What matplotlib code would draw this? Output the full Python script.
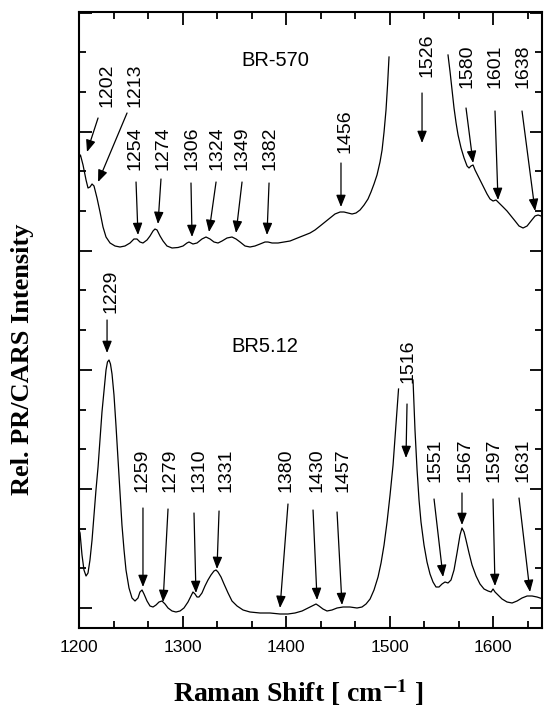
import numpy as np
import matplotlib.pyplot as plt
from matplotlib.ticker import FixedLocator, MultipleLocator
'''
PR/CARS spectra of BR-570 and BR5.12, 1200-1650 cm-1.
Intensities are relative (arbitrary units, no y tick labels).
'''
plt.rcParams['font.family'] = ['Liberation Sans', 'DejaVu Sans']
plt.rcParams['mathtext.fontset'] = 'stix'

####DATA######
# BR-570 (upper trace), nan = part of the 1526 band not drawn
upper_x = [1200.0, 1201.4, 1203.9, 1206.8, 1208.7, 1210.6, 1212.6, 1214.5, 1217.4, 1220.3,
           1223.2, 1226.1, 1230.0, 1234.8, 1239.6, 1244.4, 1249.3, 1253.1, 1256.0, 1258.9,
           1261.8, 1265.7, 1268.6, 1271.5, 1273.4, 1275.4, 1278.3, 1281.2, 1285.0, 1289.9,
           1295.7, 1300.5, 1304.3, 1306.3, 1310.1, 1314.0, 1318.8, 1322.7, 1326.6, 1330.4,
           1334.3, 1338.2, 1343.0, 1347.8, 1351.7, 1355.6, 1360.4, 1365.2, 1370.0, 1374.9,
           1379.7, 1382.6, 1386.5, 1392.3, 1398.1, 1403.9, 1408.7, 1413.5, 1418.4, 1423.2,
           1428.0, 1432.9, 1437.7, 1442.5, 1447.3, 1452.2, 1456.0, 1459.9, 1463.8, 1467.6,
           1471.5, 1475.4, 1479.2, 1482.1, 1485.0, 1487.9, 1490.8, 1492.8, 1494.7, 1496.6,
           1498.1, 1499.5, np.nan,
           1556.5, 1558.5, 1560.4, 1562.3, 1564.3, 1566.2, 1569.1, 1572.0, 1574.9, 1576.8,
           1578.7, 1580.7, 1582.6, 1585.5, 1588.4, 1591.3, 1594.2, 1597.1, 1600.0, 1602.9,
           1605.8, 1609.7, 1613.5, 1617.4, 1621.3, 1625.1, 1629.0, 1632.9, 1636.7, 1640.6,
           1643.5, 1646.4, 1648.3]
upper_y = [470, 473, 463, 448, 440, 441, 444, 442, 430, 416,
           401, 391, 385, 382, 381, 382, 385, 389, 389, 386,
           385, 388, 392, 397, 399, 398, 392, 387, 382, 380,
           380.5, 382, 385, 386, 384, 385, 389, 391, 389, 386,
           385, 387, 390, 391, 389, 386, 382, 381, 382, 384,
           386, 386, 385, 385, 386, 387, 389, 391, 393, 395,
           398, 402, 406, 410, 414, 416, 416, 415, 414, 415,
           418, 423, 429, 436, 444, 453, 466, 478, 496, 518,
           543, 571, np.nan,
           573, 556, 538, 520, 505, 493, 480, 470, 462, 460,
           462, 463, 458, 452, 446, 440, 434, 429, 427, 428,
           425, 421, 417, 412, 407, 402, 400, 402, 407, 412,
           413, 412, 410]

# BR5.12 (lower trace), nan = top of the 1516 band not drawn
lower_x = [1200.0, 1201.0, 1202.9, 1204.8, 1206.8, 1208.7, 1210.6, 1212.6, 1214.5, 1216.4,
           1218.4, 1220.3, 1222.2, 1224.2, 1226.1, 1227.5, 1229.0, 1230.4, 1231.9, 1233.8,
           1235.7, 1237.7, 1239.6, 1241.5, 1243.5, 1245.4, 1248.3, 1251.2, 1254.1, 1257.0,
           1258.9, 1260.9, 1262.8, 1265.7, 1268.6, 1271.5, 1274.4, 1277.3, 1280.2, 1283.1,
           1286.0, 1289.9, 1293.7, 1297.6, 1301.4, 1305.3, 1308.2, 1310.1, 1312.1, 1314.0,
           1315.9, 1318.8, 1321.7, 1324.6, 1327.5, 1330.4, 1332.4, 1334.3, 1337.2, 1340.1,
           1344.0, 1347.8, 1352.7, 1358.5, 1365.2, 1374.9, 1384.5, 1394.2, 1401.9, 1408.7,
           1415.5, 1421.3, 1425.1, 1429.0, 1431.9, 1435.7, 1439.6, 1444.4, 1449.3, 1455.1,
           1461.8, 1468.6, 1473.4, 1477.3, 1481.2, 1485.0, 1488.9, 1491.8, 1494.7, 1497.6,
           1500.5, 1503.4, 1505.3, 1507.2, 1508.7, np.nan,
           1522.7, 1523.7, 1524.6, 1526.6, 1528.5, 1530.4, 1533.3, 1536.2, 1539.1, 1542.0,
           1544.9, 1547.8, 1550.7, 1553.6, 1556.5, 1559.4, 1562.3, 1565.2, 1568.1, 1570.0,
           1572.0, 1573.9, 1576.8, 1579.7, 1583.6, 1587.4, 1591.3, 1595.2, 1598.1, 1600.0,
           1601.9, 1604.8, 1608.7, 1613.5, 1618.4, 1623.2, 1628.0, 1632.9, 1637.7, 1642.5,
           1648.3]
lower_y = [98, 95, 73, 58, 52, 55, 68, 88, 113, 138,
           161, 188, 216, 238, 258, 266, 268, 264, 254, 233,
           203, 168, 133, 103, 78, 58, 40, 30, 27, 30,
           36, 38, 34, 27, 22, 21, 23, 26, 27, 24,
           20, 17, 16, 17, 20, 26, 32, 36, 34, 31,
           31, 35, 42, 48, 53, 57, 58, 56, 51, 44,
           35, 27, 22, 18, 16, 15, 15, 14, 14, 15,
           17, 20, 22, 24, 22, 19, 17, 18, 20, 21,
           21, 20, 21, 24, 29, 38, 51, 65, 83, 106,
           133, 163, 190, 218, 239, np.nan,
           248, 223, 198, 158, 128, 106, 83, 66, 54, 46,
           41, 41, 44, 46, 45, 48, 58, 75, 93, 100,
           96, 88, 75, 63, 52, 44, 39, 37, 36, 39,
           36, 33, 29, 26, 25, 27, 30, 32, 32, 31,
           29]

# peak labels
upper_peaks = [1202, 1213, 1254, 1274, 1306, 1324, 1349, 1382, 1456, 1526, 1580, 1601, 1638]
lower_peaks = [1229, 1259, 1279, 1310, 1331, 1380, 1430, 1457, 1516, 1551, 1567, 1597, 1631]

#--------------------
# label / arrow placement (x in cm-1, y in plot units)
upper_text = [(1227.1, 521), (1254.1, 521), (1254.1, 458), (1281.6, 458), (1308.9, 458),
              (1333.0, 458), (1357.2, 458), (1384.5, 458), (1457.0, 475), (1536.2, 551),
              (1574.9, 540), (1601.9, 540), (1629.0, 540)]
upper_tail = [(1218.4, 510), (1246.4, 515), (1255.1, 446), (1279.2, 449), (1308.2, 445),
              (1332.4, 446), (1357.5, 446), (1383.6, 445), (1453.1, 465), (1531.4, 535),
              (1573.9, 520), (1601.9, 517), (1628.0, 517)]
upper_tip = [(1207.7, 476), (1218.4, 446), (1257.0, 393), (1276.3, 404), (1309.2, 391),
             (1325.6, 396), (1351.7, 395), (1381.6, 393), (1453.1, 421), (1531.4, 485),
             (1580.7, 465), (1604.8, 428), (1640.6, 417)]
lower_text = [(1230.9, 315), (1260.9, 136), (1287.9, 136), (1315.9, 136), (1342.0, 136),
              (1400.0, 136), (1430.0, 136), (1455.1, 136), (1517.4, 245), (1544.4, 146),
              (1572.5, 146), (1601.4, 146), (1628.5, 146)]
lower_tail = [(1227.1, 308), (1261.8, 120), (1286.0, 119), (1311.1, 115), (1335.3, 117),
              (1401.9, 124), (1426.1, 118), (1449.3, 116), (1516.9, 224), (1543.0, 129),
              (1570.0, 135), (1600.0, 129), (1625.1, 130)]
lower_tip = [(1227.1, 275), (1261.8, 41), (1281.2, 26), (1313.0, 35), (1333.3, 59),
             (1394.2, 20), (1430.0, 28), (1454.1, 23), (1515.9, 170), (1551.7, 51),
             (1570.0, 103), (1601.9, 42), (1635.7, 36)]

#Plotting-----------
fig = plt.figure(figsize=(5.45, 7.07), dpi=100)
ax = fig.add_axes([79/545, 79/707, 463/545, 616/707])

ax.plot(upper_x, upper_y, color='black', lw=0.9)
ax.plot(lower_x, lower_y, color='black', lw=0.9)

arrow = dict(arrowstyle='-|>,head_length=0.4,head_width=0.16', mutation_scale=18,
             color='black', lw=0.9, shrinkA=0, shrinkB=0)
for peaks, text, tail, tip in [(upper_peaks, upper_text, upper_tail, upper_tip),
                               (lower_peaks, lower_text, lower_tail, lower_tip)]:
    for p, t, a, b in zip(peaks, text, tail, tip):
        ax.annotate('', xy=b, xytext=a, arrowprops=arrow)
        ax.text(t[0], t[1], str(p), rotation=90, ha='center', va='bottom', fontsize=14)

ax.text(1389.4, 568, 'BR-570', ha='center', va='center', fontsize=14.5)
ax.text(1379.7, 281.5, 'BR5.12', ha='center', va='center', fontsize=14.5)

ax.set_xlim(1200, 1647.3)
ax.set_ylim(0, 616)
ax.xaxis.set_major_locator(FixedLocator([1200, 1300, 1400, 1500, 1600]))
ax.xaxis.set_minor_locator(MultipleLocator(100/3))
ax.yaxis.set_major_locator(FixedLocator(20 + 119.1*np.arange(6)))
ax.yaxis.set_minor_locator(FixedLocator(20 + 39.7*np.arange(16)))
ax.tick_params(which='both', direction='in', top=True, right=True, width=1.3)
ax.tick_params(which='major', length=9)
ax.tick_params(which='minor', length=5)
ax.tick_params(axis='x', labelsize=12.5, pad=9)
ax.tick_params(axis='y', labelleft=False)
for s in ax.spines.values():
    s.set_linewidth(1.5)

fig.text(298/545, 5/707, r'Raman Shift [ cm$^{\mathbf{-1}}$ ]', family='Liberation Serif',
         weight='bold', fontsize=20, ha='center', va='baseline')
fig.text(23/545, 1 - 359/707, 'Rel. PR/CARS Intensity', family='Liberation Serif',
         weight='bold', fontsize=19, rotation=90, ha='center', va='center')

fig.savefig('out.png', dpi=100)
